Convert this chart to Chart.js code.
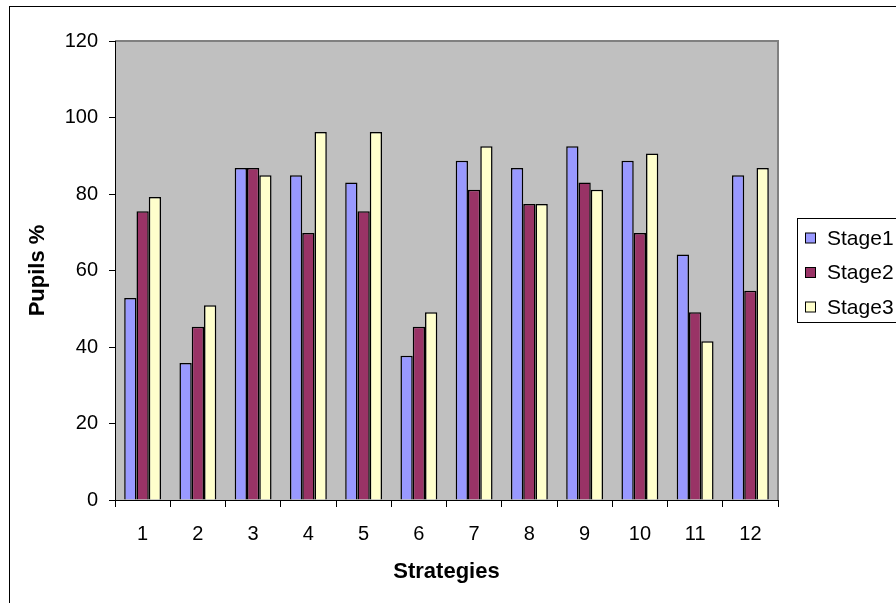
<!DOCTYPE html>
<html>
<head>
<meta charset="utf-8">
<script src="https://cdn.jsdelivr.net/npm/chart.js@4/dist/chart.umd.min.js"></script>
<style>
  html, body { margin: 0; padding: 0; background: #fff; }
  #chart { display: block; }
</style>
</head>
<body>
<canvas id="chart" width="896" height="603"></canvas>
<script>
const strategies = ["1", "2", "3", "4", "5", "6", "7", "8", "9", "10", "11", "12"];
const stage1 = [52.8, 35.8, 86.8, 84.9, 83.0, 37.7, 88.7, 86.8, 92.5, 88.7, 64.2, 84.9];
const stage2 = [75.5, 45.3, 86.8, 69.8, 75.5, 45.3, 81.1, 77.4, 83.0, 69.8, 49.1, 54.7];
const stage3 = [79.2, 50.9, 84.9, 96.2, 96.2, 49.1, 92.5, 77.4, 81.1, 90.6, 41.5, 86.8];
const yTicks = [0, 20, 40, 60, 80, 100, 120];

const FONT = "'Liberation Sans', Arial, sans-serif";

// grey plot area + outer frame + legend, drawn like the old excel chart
const excelLook = {
  id: "excelLook",
  beforeDraw(c) {
    const { ctx, chartArea: a } = c;
    ctx.save();
    ctx.fillStyle = "#fff";
    ctx.fillRect(0, 0, c.width, c.height);
    ctx.strokeStyle = "#000";
    ctx.lineWidth = 1;
    ctx.strokeRect(9.5, 6.5, 1000, 1000);
    ctx.fillStyle = "#C0C0C0";
    ctx.fillRect(a.left, a.top, a.right - a.left, a.bottom - a.top);
    ctx.strokeStyle = "#808080";
    ctx.lineWidth = 2;
    ctx.beginPath();
    ctx.moveTo(a.left, a.top);
    ctx.lineTo(a.right, a.top);
    ctx.lineTo(a.right, a.bottom);
    ctx.stroke();
    ctx.restore();
  },
  afterDraw(c) {
    const { ctx } = c;
    ctx.save();
    ctx.strokeStyle = "#000";
    ctx.lineWidth = 1;
    ctx.strokeRect(797.5, 218.5, 200, 104);
    ctx.font = "21px " + FONT;
    ctx.textBaseline = "middle";
    c.data.datasets.forEach((ds, i) => {
      const y = 238 + i * 34.5;
      ctx.fillStyle = ds.backgroundColor;
      ctx.fillRect(805.5, y - 5, 10, 10);
      ctx.strokeRect(805.5, y - 5, 10, 10);
      ctx.fillStyle = "#000";
      ctx.fillText(ds.label, 827, y + 1);
    });
    ctx.restore();
  }
};

new Chart(document.getElementById("chart"), {
  type: "bar",
  data: {
    labels: strategies,
    datasets: [
      { label: "Stage1", data: stage1, backgroundColor: "#9999FF" },
      { label: "Stage2", data: stage2, backgroundColor: "#993366" },
      { label: "Stage3", data: stage3, backgroundColor: "#FFFFCC" }
    ].map(d => Object.assign(d, { borderColor: "#000", borderWidth: 1.5 }))
  },
  options: {
    responsive: false,
    animation: false,
    devicePixelRatio: 1,
    datasets: { bar: { categoryPercentage: 0.667, barPercentage: 1.0 } },
    layout: { padding: { left: 0, top: 41, right: 118, bottom: 0 } },
    plugins: { legend: { display: false }, tooltip: { enabled: false } },
    scales: {
      x: {
        offset: true,
        afterFit: s => { s.height = 103; },
        grid: { offset: true, drawOnChartArea: false, drawTicks: true, tickLength: 7, color: "#000" },
        border: { color: "#000", width: 1 },
        ticks: { color: "#000", font: { family: FONT, size: 20 }, padding: 15, maxRotation: 0 },
        title: { display: true, text: "Strategies", color: "#000", font: { family: FONT, size: 22, weight: "bold" }, padding: { top: 0, bottom: 18 } }
      },
      y: {
        min: 0,
        max: 120,
        afterFit: s => { s.width = 115; },
        afterBuildTicks: s => { s.ticks = yTicks.map(v => ({ value: v })); },
        grid: { drawOnChartArea: false, drawTicks: true, tickLength: 6, color: "#000" },
        border: { color: "#000", width: 1 },
        ticks: { color: "#000", font: { family: FONT, size: 20 }, padding: 11 },
        title: { display: true, text: "Pupils %", color: "#000", font: { family: FONT, size: 22, weight: "bold" }, padding: { top: 25, bottom: 0 } }
      }
    }
  },
  plugins: [excelLook]
});
</script>
</body>
</html>
